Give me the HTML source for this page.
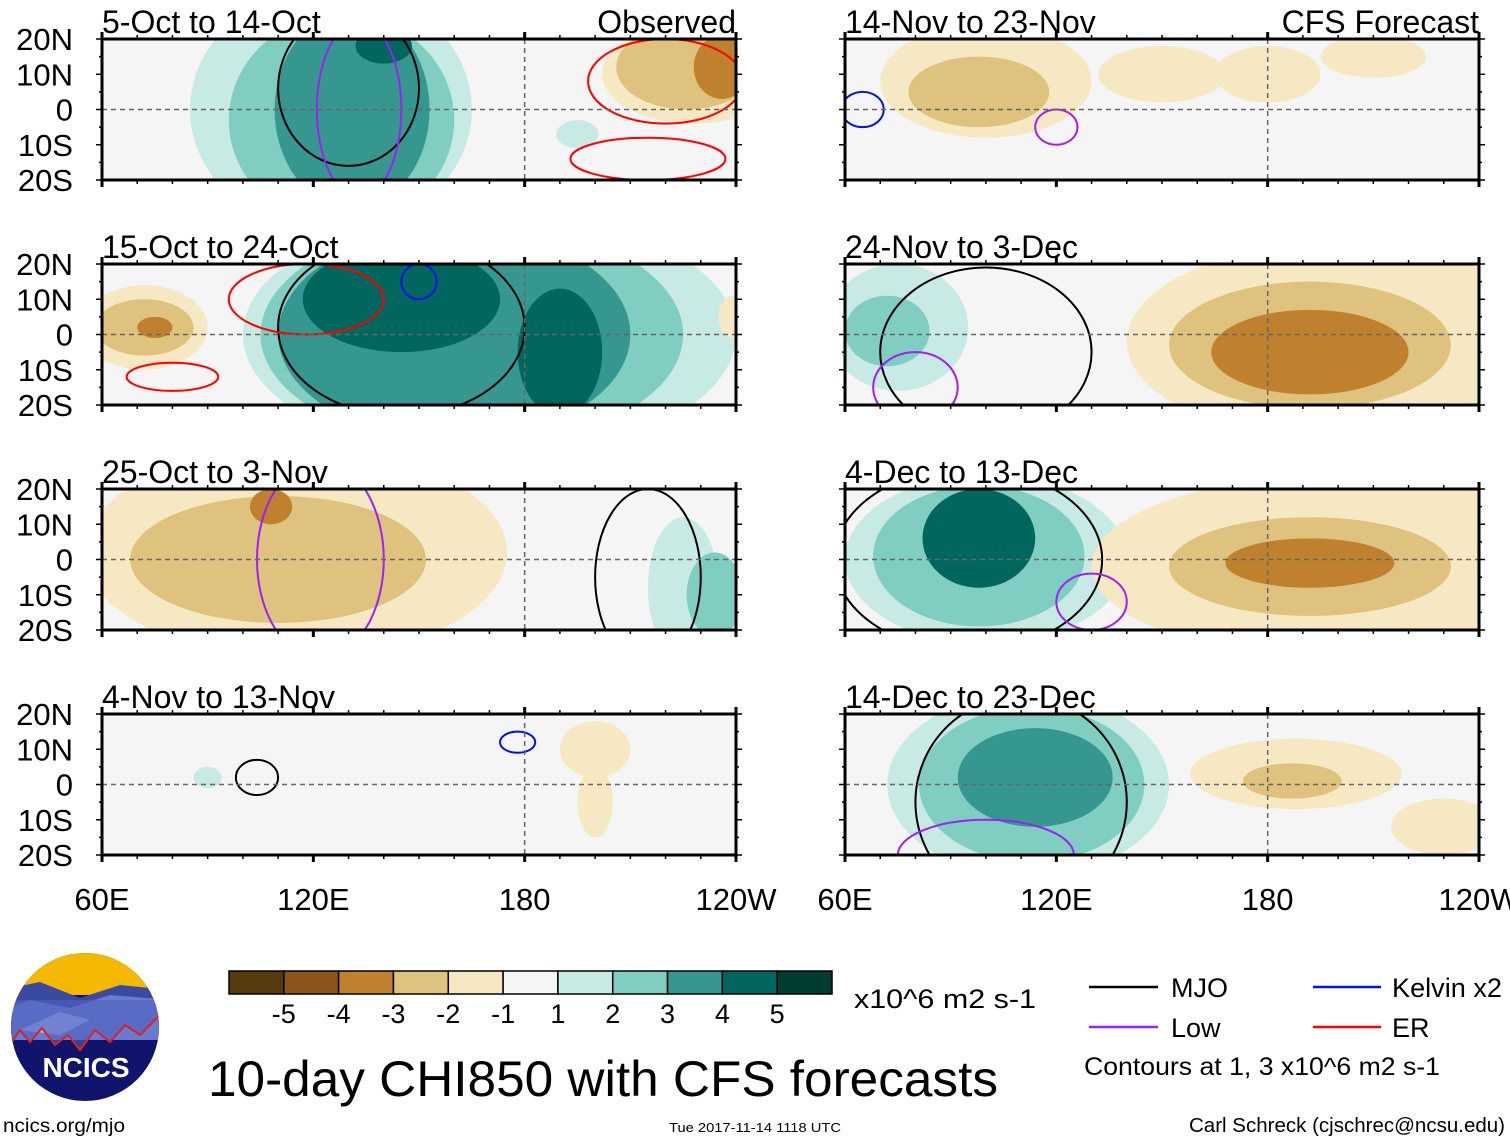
<!DOCTYPE html>
<html><head><meta charset="utf-8"><style>
html,body{margin:0;padding:0;background:#fff;}
svg{display:block;font-family:"Liberation Sans",sans-serif;}
</style></head><body>
<svg id="s" width="1510" height="1142" viewBox="0 0 1510 1142" xmlns="http://www.w3.org/2000/svg">
<defs id="defs"></defs>
<g id="panels"></g>
<g id="legend">
  <g id="cbar"></g>
  <text x="854" y="1008" font-size="27" textLength="182" lengthAdjust="spacingAndGlyphs">x10^6 m2 s-1</text>
  <line x1="1089" y1="987" x2="1158" y2="987" stroke="#000" stroke-width="2.5"/>
  <text x="1171" y="997" font-size="27">MJO</text>
  <line x1="1313" y1="987" x2="1381" y2="987" stroke="#0010ee" stroke-width="2.5"/>
  <text x="1392" y="997" font-size="27" textLength="110" lengthAdjust="spacingAndGlyphs">Kelvin x2</text>
  <line x1="1089" y1="1027" x2="1158" y2="1027" stroke="#a020f0" stroke-width="2.5"/>
  <text x="1171" y="1037" font-size="27">Low</text>
  <line x1="1313" y1="1027" x2="1381" y2="1027" stroke="#ff0000" stroke-width="2.5"/>
  <text x="1392" y="1037" font-size="27">ER</text>
  <text x="1084" y="1075" font-size="25" textLength="356" lengthAdjust="spacingAndGlyphs">Contours at 1, 3 x10^6 m2 s-1</text>
  <text x="208" y="1096" font-size="50" textLength="790" lengthAdjust="spacingAndGlyphs">10-day CHI850 with CFS forecasts</text>
  <text x="3" y="1132" font-size="19" textLength="122" lengthAdjust="spacingAndGlyphs">ncics.org/mjo</text>
  <text x="669" y="1132" font-size="13" textLength="172" lengthAdjust="spacingAndGlyphs">Tue 2017-11-14 1118 UTC</text>
  <text x="1189" y="1132" font-size="20" textLength="316" lengthAdjust="spacingAndGlyphs">Carl Schreck (cjschrec@ncsu.edu)</text>
</g>
<g id="logo">
  <clipPath id="lc"><ellipse cx="85" cy="1027" rx="74" ry="74"/></clipPath>
  <g clip-path="url(#lc)">
    <rect x="0" y="950" width="170" height="160" fill="#10146a"/>
    <rect x="0" y="950" width="170" height="45" fill="#f5b800"/>
    <polygon points="0,990 40,982 80,998 120,985 170,990 170,1040 0,1040" fill="#3a4aa0"/>
    <polygon points="0,1010 30,1000 70,1008 110,995 170,1000 170,1040 0,1040" fill="#6a7ad0"/>
    <polygon points="20,1030 60,1012 90,1020 60,1035" fill="#a8b4e8"/>
    <polygon points="0,1045 10,1045 20,1030 30,1042 42,1028 55,1045 68,1035 80,1050 95,1030 110,1042 125,1025 140,1035 160,1015 170,1015 170,1000 0,1000" fill="#5060c0" opacity="0.6"/>
    <polyline points="10,1045 20,1030 30,1042 42,1028 55,1045 68,1035 80,1050 95,1030 110,1042 125,1025 140,1035 160,1015" fill="none" stroke="#e02020" stroke-width="2"/>
  </g>
  <text x="86" y="1077" font-size="28" font-weight="bold" fill="#fff" text-anchor="middle">NCICS</text>
</g>
</svg>
<script>
// ----- data -----
const panelTitles = ["5-Oct to 14-Oct","15-Oct to 24-Oct","25-Oct to 3-Nov","4-Nov to 13-Nov","14-Nov to 23-Nov","24-Nov to 3-Dec","4-Dec to 13-Dec","14-Dec to 23-Dec"];
const panelTags = ["Observed","","","","CFS Forecast","","",""];
const latTicks = ["20N","10N","0","10S","20S"];
const latValues = [20,10,0,-10,-20];
const lonTicks = ["60E","120E","180","120W"];
const lonValues = [60,120,180,240];
const cbarLabels = ["-5","-4","-3","-2","-1","1","2","3","4","5"];
const levelColors = ["#573b0d","#8b5418","#bf812d","#dfc27d","#f6e8c3","#f5f5f5","#c7eae5","#80cdc1","#35978f","#01665e","#003c30"];
// anomaly blobs: panel index, center lon, center lat, half-width (deg), half-height (deg), level (-5..5)
const blobPanel = [0,0,0,0,0,0,0,0, 1,1,1,1,1,1,1,1,1, 2,2,2,2,2, 3,3,3, 4,4,4,4,4, 5,5,5,5,5,5, 6,6,6,6,6,6,6, 7,7,7,7,7,7];
const blobLon   = [125,128,131,140,228,226,236,195, 170,165,160,145,190,72,72,75,239, 115,110,108,225,234, 200,200,90, 100,98,150,180,210, 75,72,200,192,192,190, 100,98,98,200,192,192,215, 112,113,114,188,187,230];
const blobLat   = [0,-3,0,18,10,12,12,-7, 0,0,0,10,-5,2,2,2,5, 2,0,15,-8,-10, 10,-5,2, 8,5,10,10,15, 2,1,-2,-3,-5,-4, 0,1,6,-2,-2,-1,-5, 0,0,2,3,1,-12];
const blobRx    = [40,32,22,8,26,20,8,6, 70,60,50,28,12,18,14,5,4, 60,42,6,10,8, 10,5,4, 30,20,18,15,15, 20,12,60,40,28,12, 40,30,16,70,40,24,40, 40,32,22,30,14,15];
const blobRy    = [35,30,28,5,14,12,9,4, 35,32,30,15,18,12,8,3,6, 30,18,5,20,12, 8,10,3, 16,10,8,8,6, 18,10,28,18,12,6, 24,20,14,26,14,7,14, 26,22,14,10,5,8];
const blobLevel = [1,2,3,4,-1,-2,-3,1, 1,2,3,4,4,-1,-2,-3,-1, -1,-2,-3,1,2, -1,-1,1, -1,-2,-1,-1,-1, 1,2,-1,-2,-3,-3, 1,2,4,-1,-2,-3,-1, 1,2,3,-1,-2,-1];
// contour lines: panel, lon, lat, rx, ry, type
const ctrPanel = [0,0,0,0, 1,1,1,1, 2,2, 3,3, 4,4, 5,5, 6,6, 7,7];
const ctrLon   = [130,133,220,215, 145,118,80,150, 122,215, 104,178, 65,120, 100,80, 95,130, 110,100];
const ctrLat   = [6,0,8,-14, 2,10,-12,15, 0,-5, 2,12, 0,-5, -5,-15, 0,-12, -5,-20];
const ctrRx    = [20,12,22,22, 35,22,13,5, 18,15, 6,5, 6,6, 30,12, 38,10, 30,25];
const ctrRy    = [22,25,12,6, 25,10,4,5, 28,25, 5,3, 5,5, 24,10, 26,8, 30,10];
const ctrType  = ["mjo","low","er","er", "mjo","er","er","kelvin", "low","mjo", "mjo","kelvin", "kelvin","low", "mjo","low", "mjo","low", "mjo","low"];
const ctrColor = {mjo:"#000",low:"#a020f0",er:"#ff0000",kelvin:"#0010ee"};

// ----- layout -----
const NS="http://www.w3.org/2000/svg";
const colX=[102,845], rowY=[39,264,489,714], PW=634, PH=141;
function px(p,lon){return colX[Math.floor(p/4)]+(lon-60)/180*PW;}
function py(p,lat){return rowY[p%4]+(20-lat)/40*PH;}
function sx(d){return d/180*PW;}
function sy(d){return d/40*PH;}
function mk(tag,attrs,parent){const e=document.createElementNS(NS,tag);for(const k in attrs)e.setAttribute(k,attrs[k]);parent.appendChild(e);return e;}
const G=document.getElementById('panels'), defs=document.getElementById('defs');

for(let p=0;p<8;p++){
  const x0=colX[Math.floor(p/4)], y0=rowY[p%4];
  const g=mk('g',{},G);
  
  
  const cp=mk('clipPath',{id:'c'+p},defs); mk('rect',{x:x0,y:y0,width:PW,height:PH},cp);
  const bg=mk('rect',{x:x0,y:y0,width:PW,height:PH,fill:levelColors[5]},g);
  
  
  const fg=mk('g',{'clip-path':'url(#c'+p+')'},g);
  const idx=[];for(let i=0;i<blobPanel.length;i++)if(blobPanel[i]===p)idx.push(i);
  idx.sort((a,b)=>Math.abs(blobLevel[a])-Math.abs(blobLevel[b]));
  idx.forEach(i=>{
    const e=mk('ellipse',{cx:px(p,blobLon[i]),cy:py(p,blobLat[i]),rx:sx(blobRx[i]),ry:sy(blobRy[i]),fill:levelColors[5+blobLevel[i]]},fg);
    
    
  });
  for(let i=0;i<ctrPanel.length;i++){ if(ctrPanel[i]!==p)continue;
    const e=mk('ellipse',{cx:px(p,ctrLon[i]),cy:py(p,ctrLat[i]),rx:sx(ctrRx[i]),ry:sy(ctrRy[i]),fill:'none',stroke:ctrColor[ctrType[i]],'stroke-width':2},fg);
    
    
  }
  const eq=mk('line',{x1:x0,x2:x0+PW,y1:py(p,0),y2:py(p,0),stroke:'#666','stroke-width':1.5,'stroke-dasharray':'5,4'},g);
  
  
  const dl=mk('line',{x1:px(p,180),x2:px(p,180),y1:y0,y2:y0+PH,stroke:'#666','stroke-width':1.5,'stroke-dasharray':'5,4'},g);
  
  
  const fr=mk('rect',{x:x0,y:y0,width:PW,height:PH,fill:'none',stroke:'#000','stroke-width':3},g);
  
  
  for(let lon=60;lon<=240;lon+=10){
    const big=lon%60===0, X=px(p,lon), L=big?7:4;
    mk('line',{x1:X,x2:X,y1:y0-L,y2:y0,stroke:'#000','stroke-width':big?3:1.5},g);
    mk('line',{x1:X,x2:X,y1:y0+PH,y2:y0+PH+L,stroke:'#000','stroke-width':big?3:1.5},g);
  }
  for(let lat=-20;lat<=20;lat+=5){
    const Y=py(p,lat), L=lat%10===0?6:3;
    mk('line',{x1:x0-L,x2:x0,y1:Y,y2:Y,stroke:'#000','stroke-width':1.5},g);
    mk('line',{x1:x0+PW,x2:x0+PW+L,y1:Y,y2:Y,stroke:'#000','stroke-width':1.5},g);
  }
  const t=mk('text',{x:x0,y:y0-6,'font-size':32},g); t.textContent=panelTitles[p];
  
  
  if(panelTags[p]){const t2=mk('text',{x:x0+PW,y:y0-6,'font-size':32,'text-anchor':'end'},g);t2.textContent=panelTags[p];
    
    }
  if(p<4){ latValues.forEach((v,k)=>{const t3=mk('text',{x:73,y:py(p,v)+11,'font-size':31,'text-anchor':'end'},g);t3.textContent=latTicks[k];
    
    });}
  if(p%4===3){ lonValues.forEach((v,k)=>{const t4=mk('text',{x:px(p,v),y:910,'font-size':31,'text-anchor':'middle'},g);t4.textContent=lonTicks[k];
    
    });}
}
const CB=document.getElementById('cbar'), cbx=229, cbw=603/11;
levelColors.forEach((c,i)=>{const r=mk('rect',{x:cbx+i*cbw,y:971,width:cbw,height:23,fill:c,stroke:'#000','stroke-width':1.5},CB);
  
  });
cbarLabels.forEach((l,i)=>{const t=mk('text',{x:cbx+(i+1)*cbw,y:1023,'font-size':27,'text-anchor':'middle'},CB);t.textContent=l;
  
  });
</script>
</body></html>
